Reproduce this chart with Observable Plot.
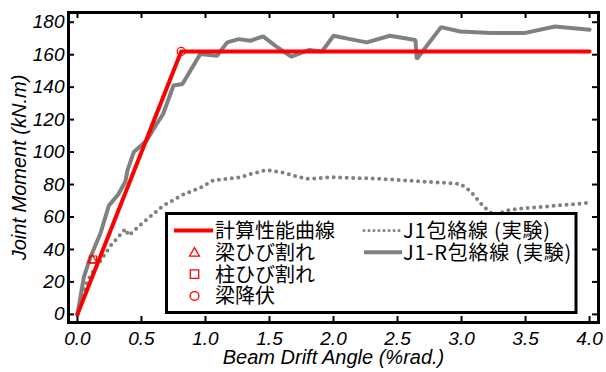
<!DOCTYPE html>
<html>
<head>
<meta charset="utf-8">
<script src="https://cdn.jsdelivr.net/npm/d3@7"></script>
<script src="https://cdn.jsdelivr.net/npm/@observablehq/plot@0.6"></script>
<style>
  html, body { margin: 0; padding: 0; background: #fff; }
  #wrap { position: relative; width: 606px; height: 372px; }
  #legend { position: absolute; left: 0; top: 0; pointer-events: none; }
</style>
</head>
<body>
<div id="wrap"></div>
<script>
// ---- data ----
const xTicks = [0, 0.5, 1, 1.5, 2, 2.5, 3, 3.5, 4];
const yTicks = [0, 20, 40, 60, 80, 100, 120, 140, 160, 180];

// 計算性能曲線
const calcX = [0, 0.81, 4.0];
const calcY = [0, 162, 162];

// markers
const beamCrack = [{x: 0.115, y: 33.5}];   // 梁ひび割れ
const colCrack  = [{x: 0.122, y: 33.8}];   // 柱ひび割れ
const beamYield = [{x: 0.81, y: 162}];     // 梁降伏

// J1-R包絡線(実験)
const j1rX = [0, 0.05, 0.1, 0.18, 0.245, 0.32, 0.375, 0.39, 0.44, 0.54, 0.6, 0.67, 0.75, 0.82, 0.96, 1.09, 1.17, 1.26, 1.35, 1.45, 1.56, 1.67, 1.81, 1.91, 2.0, 2.13, 2.26, 2.44, 2.64, 2.65, 2.84, 2.99, 3.23, 3.49, 3.73, 4.0];
const j1rY = [0, 23, 35, 50, 67, 74, 82, 88.6, 100, 107, 115, 123.5, 141, 142, 160.5, 159.4, 167.6, 169.6, 168.6, 171.3, 164.6, 158.8, 162.9, 162, 171.7, 169.6, 167.6, 171.7, 169, 157.3, 177, 174.3, 173.3, 173.3, 177.4, 175.4];

// J1包絡線(実験)
const j1X = [0, 0.05, 0.1, 0.18, 0.26, 0.375, 0.4, 0.49, 0.67, 0.83, 0.96, 1.06, 1.27, 1.36, 1.48, 1.59, 1.69, 1.79, 2.0, 2.37, 2.99, 3.07, 3.12, 3.16, 3.25, 3.38, 3.96, 4.0];
const j1Y = [0, 15, 24, 33, 42.5, 52.7, 48.6, 55, 67, 74, 78, 82.5, 84.5, 86.6, 89, 87.6, 85.5, 83.5, 84.5, 83.5, 80.4, 75.9, 71.2, 67.5, 61, 64.6, 68.5, 69];

// legend labels
const legendLeft = ["計算性能曲線", "梁ひび割れ", "柱ひび割れ", "梁降伏"];
const legendRight = ["J1包絡線 (実験)", "J1-R包絡線 (実験)"];

const xLabel = "Beam Drift Angle (%rad.)";
const yLabel = "Joint Moment (kN.m)";

// ---- build tables ----
const toRows = (xs, ys) => xs.map((x, i) => ({x, y: ys[i]}));
const calc = toRows(calcX, calcY);
const j1r = toRows(j1rX, j1rY);
const j1 = toRows(j1X, j1Y);

const W = 606, H = 372, mL = 68, mR = 8, mT = 12, mB = 50;
const innerW = W - mL - mR, innerH = H - mT - mB;
const tick = 6;
const GRAY = "#808080", RED = "#ff0000";

const chart = Plot.plot({
  width: W, height: H,
  marginLeft: mL, marginRight: mR, marginTop: mT, marginBottom: mB,
  style: {fontFamily: "'Liberation Sans', Arial, sans-serif", fontStyle: "italic", fontSize: "19px", background: "white", color: "black", overflow: "visible"},
  x: {domain: [-0.07, 4.07], ticks: xTicks, tickSize: 0, tickPadding: 9, tickFormat: d => d.toFixed(1), label: null},
  y: {domain: [-5, 186], ticks: yTicks, tickSize: 0, tickPadding: 4, label: null},
  marks: [
    Plot.line(j1, {x: "x", y: "y", stroke: GRAY, strokeWidth: 4, strokeDasharray: "0 6.5", strokeLinecap: "round"}),
    Plot.line(j1r, {x: "x", y: "y", stroke: GRAY, strokeWidth: 4, strokeLinejoin: "miter"}),
    Plot.line(calc, {x: "x", y: "y", stroke: RED, strokeWidth: 4}),
    Plot.dot(beamCrack, {x: "x", y: "y", symbol: "triangle", r: 3.5, stroke: RED, fill: "none", strokeWidth: 1.2}),
    Plot.dot(colCrack, {x: "x", y: "y", symbol: "square", r: 4, stroke: RED, fill: "none", strokeWidth: 1.2}),
    Plot.dot(beamYield, {x: "x", y: "y", symbol: "circle", r: 4, stroke: RED, fill: "none", strokeWidth: 1.2}),
    Plot.frame({stroke: "black", strokeWidth: 3}),
    Plot.ruleX(xTicks, {insetTop: innerH - tick, stroke: "black", strokeWidth: 2}),
    Plot.ruleX(xTicks, {insetBottom: innerH - tick, stroke: "black", strokeWidth: 2}),
    Plot.ruleY(yTicks, {insetRight: innerW - tick, stroke: "black", strokeWidth: 2}),
    Plot.ruleY(yTicks, {insetLeft: innerW - tick, stroke: "black", strokeWidth: 2}),
    Plot.text([xLabel], {text: d => d, frameAnchor: "bottom", dy: 41, fontSize: 20}),
    Plot.text([yLabel], {text: d => d, frameAnchor: "left", textAnchor: "middle", dx: -49, rotate: -90, fontSize: 20})
  ]
});

const wrap = document.getElementById("wrap");
wrap.appendChild(chart);

// ---- legend overlay (inside the plot area) ----
const leg = d3.select(wrap).append("svg")
  .attr("id", "legend").attr("width", W).attr("height", H);
const box = {x0: 166.5, y0: 213.5, x1: 576, y1: 312.5};
leg.append("rect")
  .attr("x", box.x0).attr("y", box.y0)
  .attr("width", box.x1 - box.x0).attr("height", box.y1 - box.y0)
  .attr("fill", "white").attr("stroke", "black").attr("stroke-width", 3);

const rowY = i => 230.5 + i * 21.8;   // row centre lines
const font = "'Noto Sans CJK JP', 'Liberation Sans', sans-serif";

legendLeft.forEach((label, i) => {
  const cy = rowY(i);
  if (i === 0) {
    leg.append("line").attr("x1", 174).attr("x2", 213).attr("y1", cy).attr("y2", cy)
      .attr("stroke", RED).attr("stroke-width", 4);
  } else {
    const sym = [null, d3.symbolTriangle, d3.symbolSquare, d3.symbolCircle][i];
    const size = [0, 42, 72, 60][i];
    leg.append("path").attr("d", d3.symbol(sym, size)())
      .attr("transform", `translate(194.5,${cy + (i === 1 ? 1 : 0)})`)
      .attr("fill", "none").attr("stroke", RED).attr("stroke-width", 1.3);
  }
  leg.append("text").attr("x", 215).attr("y", cy + 7.5)
    .attr("font-family", font).attr("font-size", 20).attr("fill", "black")
    .text(label);
});

legendRight.forEach((label, i) => {
  const cy = rowY(i);
  leg.append("line").attr("x1", 364).attr("x2", 402).attr("y1", cy).attr("y2", cy)
    .attr("stroke", GRAY)
    .attr("stroke-width", i === 0 ? 3 : 4)
    .attr("stroke-dasharray", i === 0 ? "0 5" : null)
    .attr("stroke-linecap", i === 0 ? "round" : "butt");
  leg.append("text").attr("x", 403).attr("y", cy + 7.5)
    .attr("font-family", font).attr("font-size", 20).attr("letter-spacing", 0.8).attr("fill", "black")
    .text(label);
});
</script>
</body>
</html>
